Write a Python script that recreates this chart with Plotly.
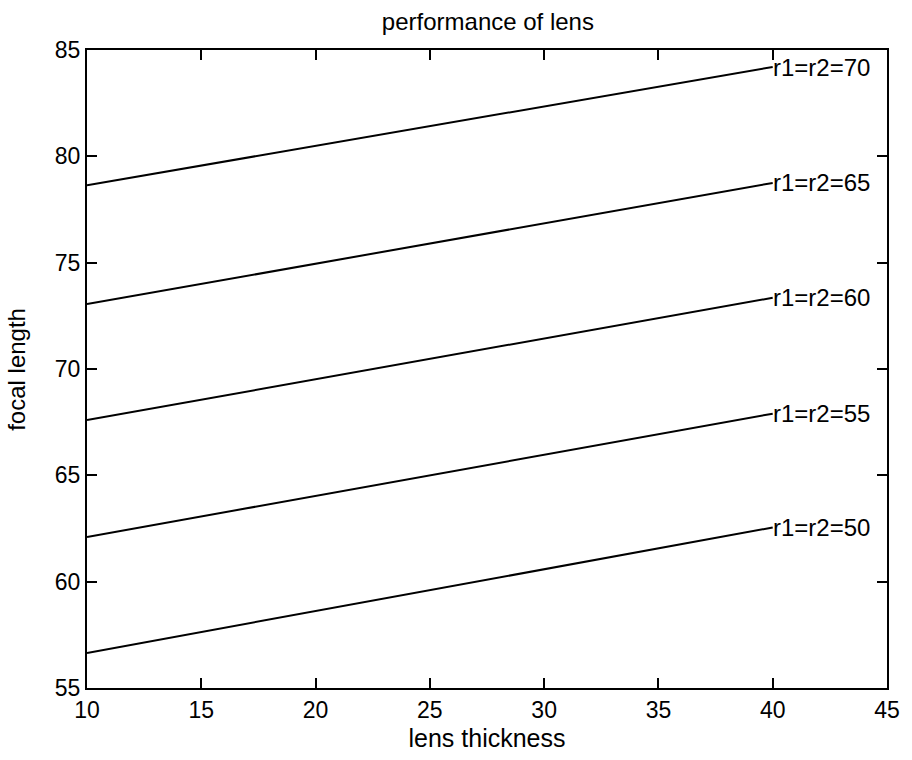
import plotly.graph_objects as go

thickness = [10, 40]
series_labels = ["r1=r2=70", "r1=r2=65", "r1=r2=60", "r1=r2=55", "r1=r2=50"]
f_70 = [78.64, 84.2]
f_65 = [73.05, 78.75]
f_60 = [67.6, 73.35]
f_55 = [62.1, 67.9]
f_50 = [56.65, 62.55]
all_series = [f_70, f_65, f_60, f_55, f_50]

x_ticks = [10, 15, 20, 25, 30, 35, 40, 45]
y_ticks = [55, 60, 65, 70, 75, 80, 85]

FONT = "Liberation Sans, Arial, sans-serif"

fig = go.Figure()
for lab, ys in zip(series_labels, all_series):
    fig.add_trace(go.Scatter(x=thickness, y=ys, mode="lines",
                             line=dict(color="black", width=2),
                             name=lab, showlegend=False, hoverinfo="skip"))
    fig.add_annotation(x=thickness[-1], y=ys[-1], text=lab, showarrow=False,
                       xanchor="left", yanchor="middle", xshift=-2,
                       font=dict(family=FONT, size=24, color="black"))

axis_common = dict(showgrid=False, zeroline=False, showline=True, linecolor="black",
                   linewidth=2, mirror="ticks", ticks="inside", ticklen=10,
                   tickwidth=2, tickcolor="black",
                   tickfont=dict(family=FONT, size=23, color="black"))

L, R, T, B = 87, 16, 50, 70
fig.update_layout(
    width=912, height=760,
    margin=dict(l=L, r=R, t=T, b=B),
    paper_bgcolor="white", plot_bgcolor="white",
    title=dict(text="performance of lens", x=0.535, xanchor="center", y=0.972, yanchor="middle",
               font=dict(family=FONT, size=24, color="black")),
    xaxis=dict(range=[10, 45], tickvals=x_ticks, ticktext=[str(v) for v in x_ticks],
               title=dict(text="lens thickness", standoff=8,
                          font=dict(family=FONT, size=25, color="black")),
               **axis_common),
    yaxis=dict(range=[55, 85], tickvals=y_ticks, ticktext=[str(v) for v in y_ticks],
               **axis_common),
)
fig.add_annotation(xref="paper", yref="paper", x=(15 - L) / (912 - L - R), y=0.5,
                   text="focal length", textangle=-90, showarrow=False,
                   xanchor="center", yanchor="middle",
                   font=dict(family=FONT, size=24, color="black"))

fig.write_html("out.html")
